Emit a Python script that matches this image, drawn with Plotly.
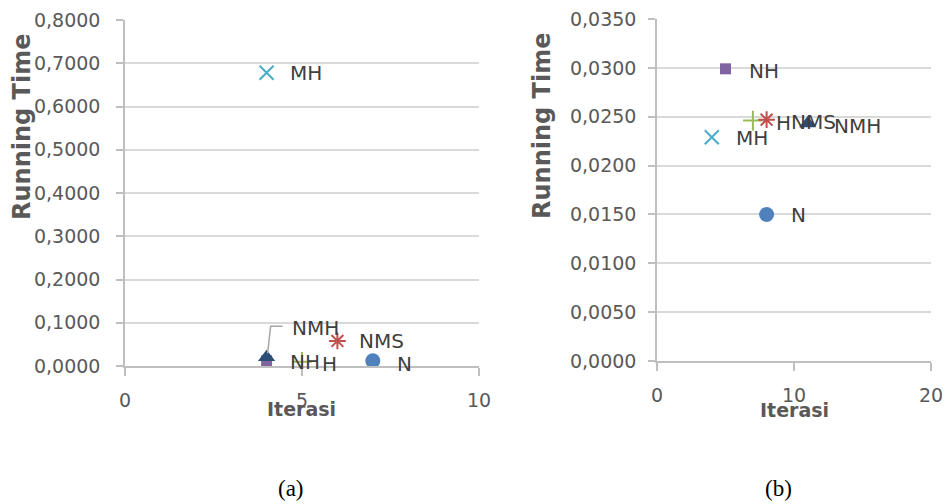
import plotly.graph_objects as go

# ---------------- data ----------------
series = ["N", "NMS", "H", "NH", "MH", "NMH"]

# panel (a)
iter_a = [7, 6, 5, 4, 4, 4]
time_a = [0.0120, 0.0580, 0.0100, 0.0120, 0.6780, 0.0200]

# panel (b)
iter_b = [8, 8, 7, 5, 4, 11]
time_b = [0.0150, 0.0247, 0.0246, 0.0299, 0.0229, 0.0243]

x_ticks_a = [0, 5, 10]
x_ticks_b = [0, 10, 20]
y_ticks_a = [0.0, 0.1, 0.2, 0.3, 0.4, 0.5, 0.6, 0.7, 0.8]
y_ticks_b = [0.0, 0.005, 0.010, 0.015, 0.020, 0.025, 0.030, 0.035]

x_title = "Iterasi"
y_title = "Running Time"
captions = ["(a)", "(b)"]

# ---------------- styles ----------------
W, H = 946, 504

def fx(px):
    return px / W

def fy(py):
    return 1 - py / H

colors = {"N": "#4F81BD", "NMS": "#C0504D", "H": "#9BBB59",
          "NH": "#8064A2", "MH": "#4BACC6", "NMH": "#2C4D75"}
symbols = {"N": "circle", "NMS": "asterisk", "H": "cross-thin",
           "NH": "square", "MH": "x-thin", "NMH": "triangle-up"}
sizes = {"N": 15, "NMS": 14, "H": 14, "NH": 11, "MH": 14, "NMH": 15}
draw_order = ["NH", "H", "MH", "NMS", "N", "NMH"]

# label pixel offsets (xshift, yshift)
lab_a = {"N": (22, -3), "NMS": (20, 0), "H": (18, -2), "NH": (21, -1),
         "MH": (21, 0)}
lab_b = {"N": (22, -1), "NMS": (22, -2), "H": (21, -2), "NH": (21, -2),
         "MH": (22, -1), "NMH": (24, -2)}

TICK_FONT = dict(family="DejaVu Sans", size=19, color="#595959")
LAB_FONT = dict(family="DejaVu Sans", size=20, color="#404040")
GRID = "#d9d9d9"
AXIS = "#bfbfbf"

fig = go.Figure()

def add_points(xs, ys, xref, yref):
    for name in draw_order:
        i = series.index(name)
        c = colors[name]
        fig.add_trace(go.Scatter(
            x=[xs[i]], y=[ys[i]], mode="markers", name=name,
            xaxis=xref, yaxis=yref, showlegend=False,
            marker=dict(symbol=symbols[name], size=sizes[name], color=c,
                        line=dict(color=c, width=2 if symbols[name] in
                                  ("asterisk", "cross-thin", "x-thin") else 0)),
        ))

add_points(iter_a, time_a, "x", "y")
add_points(iter_b, time_b, "x2", "y2")

ann = []
for name, (dx, dy) in lab_a.items():
    i = series.index(name)
    ann.append(dict(x=iter_a[i], y=time_a[i], xref="x", yref="y", text=name,
                    showarrow=False, xanchor="left", yanchor="middle",
                    xshift=dx, yshift=dy, font=LAB_FONT))
# NMH label in panel (a) with leader line
i_nmh = series.index("NMH")
ann.append(dict(x=iter_a[i_nmh], y=time_a[i_nmh], xref="x", yref="y",
                text="NMH", showarrow=False, xanchor="left", yanchor="middle",
                xshift=23, yshift=29, font=LAB_FONT))
for name, (dx, dy) in lab_b.items():
    i = series.index(name)
    ann.append(dict(x=iter_b[i], y=time_b[i], xref="x2", yref="y2", text=name,
                    showarrow=False, xanchor="left", yanchor="middle",
                    xshift=dx, yshift=dy, font=LAB_FONT))

def paper(px, py, text, font, angle=0):
    return dict(x=fx(px), y=fy(py), xref="paper", yref="paper",
                xanchor="center", yanchor="middle", text=text,
                showarrow=False, textangle=angle, font=font)

TITLE_FONT_X = dict(family="DejaVu Sans", size=19, color="#595959")
TITLE_FONT_Y = dict(family="DejaVu Sans", size=24, color="#595959")
CAP_FONT = dict(family="Liberation Serif", size=23, color="#000000")
ann += [
    paper(301, 409, "<b>%s</b>" % x_title, TITLE_FONT_X),
    paper(794, 410, "<b>%s</b>" % x_title, TITLE_FONT_X),
    paper(22, 127, "<b>%s</b>" % y_title, TITLE_FONT_Y, -90),
    paper(542, 126, "<b>%s</b>" % y_title, TITLE_FONT_Y, -90),
    paper(291, 488, captions[0], CAP_FONT),
    paper(778, 488, captions[1], CAP_FONT),
]

shapes = [dict(type="path", xref="x", yref="y", xsizemode="pixel",
               ysizemode="pixel", xanchor=iter_a[i_nmh],
               yanchor=time_a[i_nmh], path="M 1,4 L 4,31 L 16,31",
               line=dict(color="#a6a6a6", width=1.5))]

def xaxis(domain, ticks, anchor):
    return dict(domain=domain, range=[ticks[0], ticks[-1]], tickvals=ticks,
                ticktext=[str(t) for t in ticks], showgrid=False,
                zeroline=False, showline=True, linecolor=AXIS, linewidth=1.5,
                ticks="outside", ticklen=8, tickcolor=AXIS, tickwidth=1.5,
                tickfont=TICK_FONT, ticklabelstandoff=8, anchor=anchor,
                automargin=False, fixedrange=True)

def yaxis(domain, ticks, anchor, standoff):
    return dict(domain=domain, range=[ticks[0], ticks[-1]], tickvals=ticks,
                tickformat=".4f", showgrid=True, gridcolor=GRID, gridwidth=1.5,
                zeroline=False, showline=True, linecolor=AXIS, linewidth=1.5,
                ticks="outside", ticklen=7, tickcolor=AXIS, tickwidth=1.5,
                tickfont=TICK_FONT, ticklabelstandoff=standoff, anchor=anchor,
                automargin=False, fixedrange=True)

fig.update_layout(
    width=W, height=H, margin=dict(l=0, r=0, t=0, b=0, pad=0),
    paper_bgcolor="white", plot_bgcolor="white", separators=",.",
    showlegend=False,
    xaxis=xaxis([fx(125), fx(479)], x_ticks_a, "y"),
    yaxis=yaxis([fy(366), fy(20)], y_ticks_a, "x", 12),
    xaxis2=xaxis([fx(657), fx(931)], x_ticks_b, "y2"),
    yaxis2=yaxis([fy(361), fy(19)], y_ticks_b, "x2", 8),
    annotations=ann, shapes=shapes,
)

fig.write_html("out.html")
